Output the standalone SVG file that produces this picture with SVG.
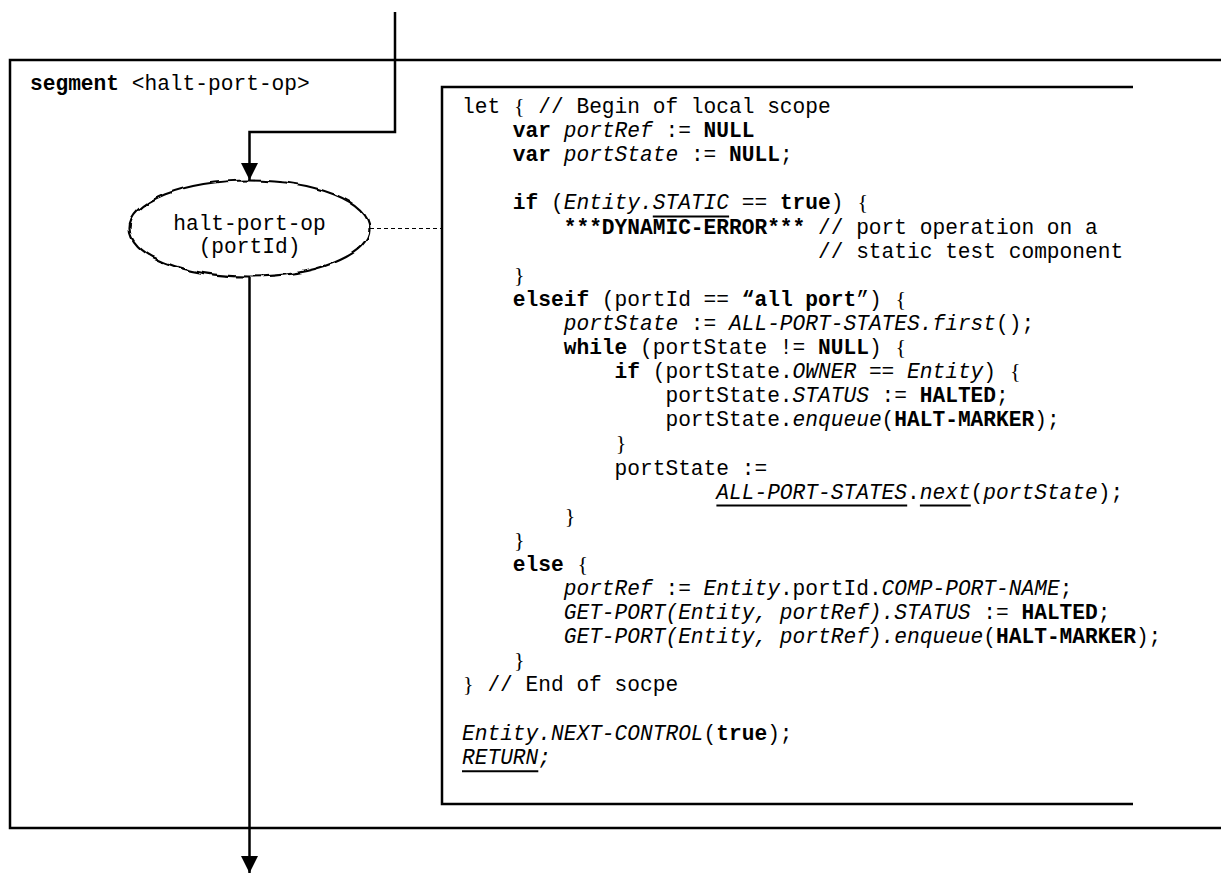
<svg xmlns="http://www.w3.org/2000/svg" width="1221" height="873" viewBox="0 0 1221 873">
<style>
.m{font-family:"Liberation Mono","Courier New",monospace;font-size:21.2px;fill:#000}
.b{font-weight:bold}
.i{font-style:italic}
.br{font-family:"Liberation Serif","Times New Roman",serif;font-size:22px;fill:#000;text-anchor:middle}
.frame{fill:none;stroke:#000;stroke-width:2.5}
.flow{fill:none;stroke:#000;stroke-width:2.5}
.dash{fill:none;stroke:#000;stroke-width:1;stroke-dasharray:4 3}
.ul{stroke:#000;stroke-width:2}
</style>
<defs>
<marker id="arrow" viewBox="0 0 17 17" refX="17" refY="8.5" markerWidth="17" markerHeight="17" markerUnits="userSpaceOnUse" orient="auto">
<path d="M0,0 L17,8.5 L0,17 z" fill="#000"/>
</marker>
<filter id="wobble" x="-10%" y="-20%" width="120%" height="140%">
<feTurbulence type="fractalNoise" baseFrequency="0.07" numOctaves="1" seed="4" result="n"/>
<feDisplacementMap in="SourceGraphic" in2="n" scale="6" xChannelSelector="R" yChannelSelector="G"/>
</filter>
</defs>
<rect x="0" y="0" width="1221" height="873" fill="#fff"/>

<g id="segment-frame">
<path class="frame" d="M1225,60 H10 V828 H1225"/>
<text class="m" x="30" y="90" xml:space="preserve"><tspan class="b">segment</tspan> &lt;halt-port-op&gt;</text>
</g>

<g id="node-halt-port-op">
<ellipse cx="249.5" cy="228.5" rx="120" ry="48" fill="#fff" stroke="#000" stroke-width="2.2" filter="url(#wobble)"/>
<text class="m" x="249.5" y="230" text-anchor="middle">halt-port-op</text>
<text class="m" x="249.5" y="253" text-anchor="middle">(portId)</text>
</g>

<g id="code-box">
<path class="frame" d="M1133,87 H442 V804 H1133"/>
<text class="m" x="462" y="113">let</text>
<text class="m" x="538.3" y="113">// Begin of local scope</text>
<text class="m" x="462" y="137.1" xml:space="preserve">    <tspan class="b">var</tspan> <tspan class="i">portRef</tspan> := <tspan class="b">NULL</tspan></text>
<text class="m" x="462" y="161.2" xml:space="preserve">    <tspan class="b">var</tspan> <tspan class="i">portState</tspan> := <tspan class="b">NULL</tspan>;</text>
<text class="m" x="462" y="209.4" xml:space="preserve">    <tspan class="b">if</tspan> (<tspan class="i">Entity.STATIC</tspan> == <tspan class="b">true</tspan>)</text>
<text class="m" x="462" y="233.5" xml:space="preserve">        <tspan class="b">***DYNAMIC-ERROR***</tspan> // port operation on a</text>
<text class="m" x="462" y="257.6" xml:space="preserve">                            // static test component</text>
<text class="m" x="462" y="305.8" xml:space="preserve">    <tspan class="b">elseif</tspan> (portId == <tspan class="b">“all port</tspan>”)</text>
<text class="m" x="462" y="329.9" xml:space="preserve">        <tspan class="i">portState</tspan> := <tspan class="i">ALL-PORT-STATES.first</tspan>();</text>
<text class="m" x="462" y="354" xml:space="preserve">        <tspan class="b">while</tspan> (portState != <tspan class="b">NULL</tspan>)</text>
<text class="m" x="462" y="378.1" xml:space="preserve">            <tspan class="b">if</tspan> (portState.<tspan class="i">OWNER</tspan> == <tspan class="i">Entity</tspan>)</text>
<text class="m" x="462" y="402.2" xml:space="preserve">                portState.<tspan class="i">STATUS</tspan> := <tspan class="b">HALTED</tspan>;</text>
<text class="m" x="462" y="426.3" xml:space="preserve">                portState.<tspan class="i">enqueue</tspan>(<tspan class="b">HALT-MARKER</tspan>);</text>
<text class="m" x="462" y="474.5" xml:space="preserve">            portState :=</text>
<text class="m" x="462" y="498.6" xml:space="preserve">                    <tspan class="i">ALL-PORT-STATES</tspan>.<tspan class="i">next</tspan>(<tspan class="i">portState</tspan>);</text>
<text class="m" x="462" y="570.9" xml:space="preserve">    <tspan class="b">else</tspan></text>
<text class="m" x="462" y="595" xml:space="preserve">        <tspan class="i">portRef</tspan> := <tspan class="i">Entity</tspan>.portId.<tspan class="i">COMP-PORT-NAME</tspan>;</text>
<text class="m" x="462" y="619.1" xml:space="preserve">        <tspan class="i">GET-PORT(Entity, portRef).STATUS</tspan> := <tspan class="b">HALTED</tspan>;</text>
<text class="m" x="462" y="643.2" xml:space="preserve">        <tspan class="i">GET-PORT(Entity, portRef).enqueue</tspan>(<tspan class="b">HALT-MARKER</tspan>);</text>
<text class="m" x="487.4" y="691.4">// End of socpe</text>
<text class="m" x="462" y="739.6" xml:space="preserve"><tspan class="i">Entity.NEXT-CONTROL</tspan>(<tspan class="b">true</tspan>);</text>
<text class="m" x="462" y="763.7" xml:space="preserve"><tspan class="i">RETURN;</tspan></text>
<text class="br" x="519.2" y="113">{</text>
<text class="br" x="862.7" y="209.4">{</text>
<text class="br" x="519.2" y="281.7">}</text>
<text class="br" x="900.8" y="305.8">{</text>
<text class="br" x="900.8" y="354">{</text>
<text class="br" x="1015.3" y="378.1">{</text>
<text class="br" x="621" y="450.4">}</text>
<text class="br" x="570.1" y="522.7">}</text>
<text class="br" x="519.2" y="546.8">}</text>
<text class="br" x="582.8" y="570.9">{</text>
<text class="br" x="519.2" y="667.3">}</text>
<text class="br" x="468.4" y="691.4">}</text>
<line class="ul" x1="652.8" y1="216.4" x2="729.1" y2="216.4"/>
<line class="ul" x1="716.4" y1="505.6" x2="907.2" y2="505.6"/>
<line class="ul" x1="919.9" y1="505.6" x2="970.8" y2="505.6"/>
<line class="ul" x1="462" y1="771.2" x2="538.3" y2="771.2"/>
</g>

<g id="connectors">
<path class="flow" d="M395,12 V132 H249.5 V180" marker-end="url(#arrow)"/>
<path class="flow" d="M249.5,277 V873" marker-end="url(#arrow)"/>
<path class="dash" d="M370,228.5 H442"/>
</g>
</svg>
